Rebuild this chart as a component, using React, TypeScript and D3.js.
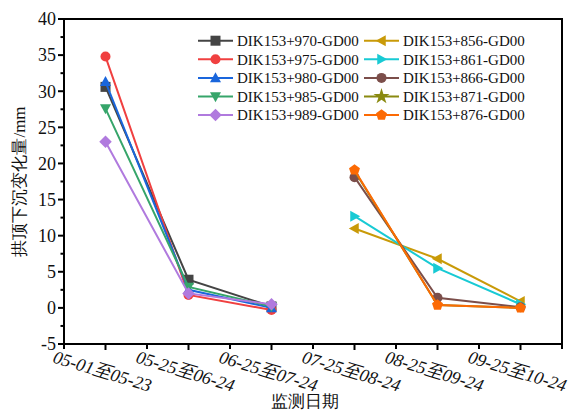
import React from "react";
import * as d3 from "d3";

const categories = ["05-01至05-23", "05-25至06-24", "06-25至07-24", "07-25至08-24", "08-25至09-24", "09-25至10-24"];
const seriesNames = [
  "DIK153+970-GD00", "DIK153+975-GD00", "DIK153+980-GD00", "DIK153+985-GD00", "DIK153+989-GD00",
  "DIK153+856-GD00", "DIK153+861-GD00", "DIK153+866-GD00", "DIK153+871-GD00", "DIK153+876-GD00",
];
const seriesColors = ["#444444", "#f04040", "#1a66dc", "#36a56a", "#b07ade", "#c99a08", "#18cad4", "#7b4e4a", "#8a8a10", "#fc6a04"];
const seriesMarkers = ["square", "circle", "triUp", "triDown", "diamond", "triLeft", "triRight", "circle", "star", "pentagon"];
const v970 = [30.6, 3.9, 0.2];
const v975 = [34.8, 1.8, -0.3];
const v980 = [31.3, 2.5, 0.0];
const v985 = [27.6, 2.9, 0.2];
const v989 = [23.0, 2.0, 0.5];
const v856 = [11.0, 6.8, 0.9];
const v861 = [12.7, 5.5, 0.5];
const v866 = [18.1, 1.4, 0.1];
const v871 = [19.0, 0.4, 0.0];
const v876 = [19.1, 0.4, 0.0];
const seriesValues = [v970, v975, v980, v985, v989, v856, v861, v866, v871, v876];
const seriesStart = [0, 0, 0, 0, 0, 3, 3, 3, 3, 3];
const yTicks = [-5, 0, 5, 10, 15, 20, 25, 30, 35, 40];

const W = 568, H = 415;
const L = 64, R = 562, T = 19, B = 344;
const font = "Liberation Serif";

function markerPath(type: string, s: number): string {
  const r = s / 2;
  switch (type) {
    case "square": return `M${-r},${-r}H${r}V${r}H${-r}Z`;
    case "circle": return d3.symbol(d3.symbolCircle, Math.PI * r * r)() as string;
    case "triUp": return `M0,${-r * 1.15}L${r * 1.1},${r * 0.85}L${-r * 1.1},${r * 0.85}Z`;
    case "triDown": return `M0,${r * 1.15}L${r * 1.1},${-r * 0.85}L${-r * 1.1},${-r * 0.85}Z`;
    case "triLeft": return `M${-r * 1.15},0L${r * 0.85},${r * 1.1}L${r * 0.85},${-r * 1.1}Z`;
    case "triRight": return `M${r * 1.15},0L${-r * 0.85},${r * 1.1}L${-r * 0.85},${-r * 1.1}Z`;
    case "diamond": return `M0,${-r * 1.25}L${r * 1.25},0L0,${r * 1.25}L${-r * 1.25},0Z`;
    case "star": return d3.symbol(d3.symbolStar, r * r * 3.2)() as string;
    case "pentagon": {
      const pts = d3.range(5).map((i) => {
        const a = -Math.PI / 2 + (i * 2 * Math.PI) / 5;
        return [Math.cos(a) * r * 1.15, Math.sin(a) * r * 1.15];
      });
      return "M" + pts.map((p) => p.join(",")).join("L") + "Z";
    }
  }
  return "";
}

const txt: React.CSSProperties = { fontFamily: font };

export default function App() {
  const x = d3.scalePoint<string>().domain(categories).range([L, R]).padding(0.5);
  const y = d3.scaleLinear().domain([-5, 40]).range([B, T]);
  const step = x.step();
  const line = d3.line<[number, number]>().x((d) => d[0]).y((d) => d[1]);
  const minorY = d3.range(-2.5, 40, 5);
  const minorX = d3.range(0, 7).map((i) => L + i * step);

  return (
    <svg width={W} height={H} style={{ position: "absolute", left: 0, top: 0, background: "#fff" }}>
      <rect x={0} y={0} width={W} height={H} fill="#fff" />
      {seriesValues.map((vals, si) => {
        const pts: [number, number][] = vals.map((v, i) => [x(categories[seriesStart[si] + i])!, y(v)]);
        const ms = seriesMarkers[si] === "star" ? 5 : 10;
        return (
          <g key={si}>
            <path d={line(pts)!} fill="none" stroke={seriesColors[si]} strokeWidth={2} />
            {pts.map((p, i) => (
              <path key={i} d={markerPath(seriesMarkers[si], ms)} transform={`translate(${p[0]},${p[1]})`} fill={seriesColors[si]} />
            ))}
          </g>
        );
      })}
      <rect x={L} y={T} width={R - L} height={B - T} fill="none" stroke="#000" strokeWidth={2} />
      {yTicks.map((t) => (
        <g key={t}>
          <line x1={L - 6} x2={L} y1={y(t)} y2={y(t)} stroke="#000" strokeWidth={2} />
          <text x={L - 8} y={y(t)} dy="0.35em" textAnchor="end" fontSize={18} fill="#111" style={txt}>{t}</text>
        </g>
      ))}
      {minorY.map((t) => (
        <line key={t} x1={L - 3.5} x2={L} y1={y(t)} y2={y(t)} stroke="#000" strokeWidth={2} />
      ))}
      {minorX.map((px, i) => (
        <line key={"m" + i} x1={px} x2={px} y1={B} y2={B + 5} stroke="#000" strokeWidth={2} />
      ))}
      {categories.map((c) => (
        <g key={c}>
          <line x1={x(c)} x2={x(c)} y1={B} y2={B + 6} stroke="#000" strokeWidth={2} />
          <text
            transform={`translate(${x(c)! - 3},${B + 27}) rotate(17)`}
            textAnchor="middle"
            dy="0.35em"
            fontSize={18}
            fontStyle="italic"
            fill="#111"
            style={txt}
          >
            {c}
          </text>
        </g>
      ))}
      <text x={305} y={407} textAnchor="middle" fontSize={17} fill="#111" style={txt}>监测日期</text>
      <text transform={`translate(19,${(T + B) / 2}) rotate(-90)`} textAnchor="middle" dy="0.35em" fontSize={17} fill="#111" style={txt}>拱顶下沉变化量/mm</text>
      {seriesNames.map((n, si) => {
        const col = Math.floor(si / 5);
        const row = si % 5;
        const lx = col === 0 ? 198 : 364;
        const ly = 40.7 + row * 18.6;
        return (
          <g key={n}>
            <line x1={lx} x2={lx + 35} y1={ly} y2={ly} stroke={seriesColors[si]} strokeWidth={2} />
            <path d={markerPath(seriesMarkers[si], 10)} transform={`translate(${lx + 17.5},${ly})`} fill={seriesColors[si]} />
            <text x={lx + 39} y={ly} dy="0.35em" fontSize={15} fill="#111" style={txt}>{n}</text>
          </g>
        );
      })}
    </svg>
  );
}
